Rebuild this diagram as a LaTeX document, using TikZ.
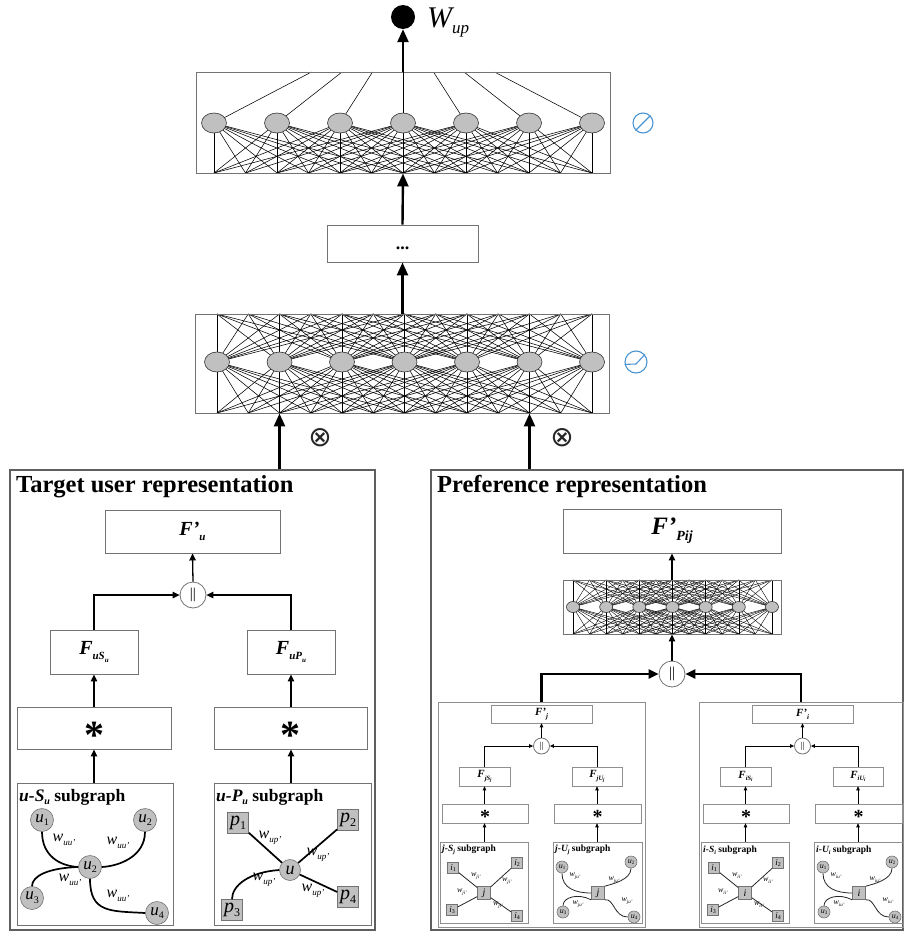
\documentclass[tikz,border=0pt]{standalone}
\usepackage{fontspec}
\setmainfont{Liberation Serif}
\newfontfamily\djv{DejaVu Sans}
\usetikzlibrary{shapes.geometric,arrows.meta}
\definecolor{boxgray}{RGB}{115,115,115}
\definecolor{panelgray}{RGB}{95,95,95}
\definecolor{nodegray}{RGB}{192,192,192}
\definecolor{iconblue}{RGB}{75,150,210}
\pgfdeclarelayer{back}
\pgfdeclarelayer{bg}
\pgfsetlayers{back,bg,main}
\newcommand\sz[1]{\fontsize{#1}{#1}\selectfont}
\newcommand\pr{\char"0027\relax}
\newcommand\wl[4]{{\sz{#1}\itshape #2\raisebox{-0.22em}{\sz{#3}#4}}}
\newcommand\netnodes[6]{%
  \foreach \i in {0,...,6}{%
    \node[neuron,minimum width=#5,minimum height=#6] (#1\i) at ({#2+2*#3*\i},#4) {};}}
\newcommand\netfan[6]{%
  \begin{pgfonlayer}{bg}
  \foreach \i in {0,...,6}{%
    \foreach \j in {0,...,12}{%
      \pgfmathtruncatemacro\dd{abs(\j-2*\i)}%
      \ifnum\dd<#5\relax\draw[netline,line width=#6] (#1\i.center) -- ({#2+#3*\j},#4);\fi}}
  \end{pgfonlayer}}
\newcommand\subpanel[3]{%
\begin{scope}[xshift=#1pt]
\node[sbox,minimum width=101,minimum height=18] (#2F) at (541.5,714) {\sz{11}\bfseries\itshape F\pr\raisebox{-0.25em}{\sz{7}#3}};
\node[cat,minimum size=16] (#2cat) at (541.5,746) {\sz{9}||};
\node[sbox,minimum width=51,minimum height=19] (#2FS) at (484.5,776.5) {\sz{11}\bfseries\itshape F\raisebox{-0.25em}{\sz{6.5}#3S\raisebox{-0.15em}{\sz{5}#3}}};
\node[sbox,minimum width=50,minimum height=19] (#2FU) at (597,776.5) {\sz{11}\bfseries\itshape F\raisebox{-0.25em}{\sz{6.5}#3U\raisebox{-0.15em}{\sz{5}#3}}};
\node[sbox,minimum width=86,minimum height=19] (#2sS) at (485,813.5) {};
\node[sbox,minimum width=87,minimum height=19] (#2sU) at (597.5,813.5) {};
\node[lbl,anchor=base] (#2aS) at (485,823.5) {\sz{20}\bfseries *};
\node[lbl,anchor=base] (#2aU) at (597.5,823.5) {\sz{20}\bfseries *};
\node[sbox,minimum width=88,minimum height=81] (#2gS) at (484,882.5) {};
\node[sbox,minimum width=89,minimum height=81] (#2gU) at (597.5,882.5) {};
\draw[sarr] (#2FS |- #2gS.north) -- (#2FS |- #2sS.south);
\draw[sarr] (#2FU |- #2gU.north) -- (#2FU |- #2sU.south);
\draw[sarr] (#2FS |- #2sS.north) -- (#2FS.south);
\draw[sarr] (#2FU |- #2sU.north) -- (#2FU.south);
\draw[sarr] (#2FS.north) |- (#2cat.west);
\draw[sarr] (#2FU.north) |- (#2cat.east);
\draw[sarr] (#2cat.north) -- (#2F.south);
% j-S graph
\node[lbl,anchor=west] (#2tS) at (442,850) {\sz{9.5}\bfseries\itshape #3-S\raisebox{-0.2em}{\sz{6}#3}\upshape\ subgraph};
\node[gsq,minimum size=11] (#2i1) at (453,868) {\sz{9}\itshape i\raisebox{-0.2em}{\sz{6}\upshape 1}};
\node[gsq,minimum size=11] (#2i2) at (517,863) {\sz{9}\itshape i\raisebox{-0.2em}{\sz{6}\upshape 2}};
\node[gsq,minimum size=13] (#2jS) at (484,893) {\sz{10}\itshape #3};
\node[gsq,minimum size=11] (#2i3) at (452,910) {\sz{9}\itshape i\raisebox{-0.2em}{\sz{6}\upshape 3}};
\node[gsq,minimum size=11] (#2i4) at (517,916) {\sz{9}\itshape i\raisebox{-0.2em}{\sz{6}\upshape 4}};
\draw[sedge] (#2i1) -- (#2jS);
\draw[sedge] (#2i2) -- (#2jS);
\draw[sedge] (#2i3) -- (#2jS);
\draw[sedge] (#2i4) -- (#2jS);
\node[lbl] (#2w1) at (476,876) {\wl{8}{w}{5}{#3i\pr}};
\node[lbl] (#2w2) at (507,881) {\wl{8}{w}{5}{#3i\pr}};
\node[lbl] (#2w3) at (462,892) {\wl{8}{w}{5}{#3i\pr}};
\node[lbl] (#2w4) at (498,905) {\wl{8}{w}{5}{#3i\pr}};
% j-U graph
\node[lbl,anchor=west] (#2tU) at (555,850) {\sz{9.5}\bfseries\itshape #3-U\raisebox{-0.2em}{\sz{6}#3}\upshape\ subgraph};
\node[gnode,minimum size=12] (#2u1) at (562,867) {\sz{8}\itshape u\raisebox{-0.2em}{\sz{5}\upshape 1}};
\node[gnode,minimum size=12] (#2u2) at (631,862) {\sz{8}\itshape u\raisebox{-0.2em}{\sz{5}\upshape 2}};
\node[gsq,minimum size=13] (#2jU) at (598,893) {\sz{10}\itshape #3};
\node[gnode,minimum size=12] (#2u3) at (563,912) {\sz{8}\itshape u\raisebox{-0.2em}{\sz{5}\upshape 3}};
\node[gnode,minimum size=12] (#2u4) at (634,917) {\sz{8}\itshape u\raisebox{-0.2em}{\sz{5}\upshape 4}};
\draw[sedge] (#2u1.south) .. controls (562,888) and (575,893) .. (#2jU.west);
\draw[sedge] (#2u2.south) .. controls (631,880) and (612,884) .. (#2jU.north east);
\draw[sedge] (#2u3.north) .. controls (563,897) and (578,893) .. (#2jU.south west);
\draw[sedge] (#2jU.south east) .. controls (614,898) and (614,917) .. (#2u4.west);
\node[lbl] (#2v1) at (575,876) {\wl{8}{w}{5}{#3u\pr}};
\node[lbl] (#2v2) at (614,880) {\wl{8}{w}{5}{#3u\pr}};
\node[lbl] (#2v3) at (578,904) {\wl{8}{w}{5}{#3u\pr}};
\node[lbl] (#2v4) at (627,901) {\wl{8}{w}{5}{#3u\pr}};
\end{scope}}

\begin{document}
\begin{tikzpicture}[x=1pt,y=-1pt,
  box/.style={draw=boxgray,line width=0.9pt,inner sep=0pt},
  panel/.style={draw=panelgray,line width=1.1pt,inner sep=0pt},
  sbox/.style={draw=boxgray!80,line width=0.6pt,inner sep=0pt},
  neuron/.style={ellipse,draw=black!80,line width=0.6pt,fill=nodegray,inner sep=0pt},
  netline/.style={black},
  thickarr/.style={line width=2.4pt,-{Triangle[length=13pt,width=11pt]}},
  midarr/.style={line width=2.2pt,-{Triangle[length=10pt,width=9pt]}},
  arr/.style={line width=1.3pt,-{Triangle[length=7pt,width=6.5pt]}},
  sarr/.style={line width=0.7pt,-{Triangle[length=4pt,width=3.5pt]}},
  cat/.style={circle,draw=boxgray,line width=0.8pt,fill=white,inner sep=0pt},
  gnode/.style={circle,draw=boxgray,line width=0.6pt,fill=nodegray,inner sep=0pt},
  gsq/.style={rectangle,draw=boxgray,line width=0.6pt,fill=nodegray,inner sep=0pt},
  gedge/.style={line width=1.7pt},
  sedge/.style={line width=0.8pt,draw=black!85},
  lbl/.style={inner sep=0pt},
  iconc/.style={circle,draw=iconblue,line width=1.1pt,minimum size=20,inner sep=0pt},
  icon/.style={draw=iconblue,line width=1.1pt},
]
\useasboundingbox (0,0) rectangle (904,934);
\begin{pgfonlayer}{back}
\fill[white] (0,0) rectangle (904,934);
\end{pgfonlayer}

% ---------- top network ----------
\node[box,minimum width=414,minimum height=101] (topbox) at (403,122.5) {};
\netnodes{top}{214}{31.5}{123}{25}{20}
\netfan{top}{214}{31.5}{173}{7}{0.55pt}
\begin{pgfonlayer}{bg}
\foreach \i in {0,1,2,4,5,6}{\draw[netline,line width=0.55pt] (top\i.center) -- ({403+30.5*(\i-3)},72);}
\end{pgfonlayer}
\draw[line width=0.8pt] (top3) -- (top3 |- topbox.north);
\node[circle,fill=black,minimum size=24,inner sep=0pt] (out) at (403,17) {};
\draw[thickarr] (top3 |- topbox.north) -- (out);
\node[lbl,anchor=base west] (wup) at (427,28) {\sz{30}\itshape W\raisebox{-0.2em}{\sz{17}up}};
\node[iconc] (icon1) at (643,123) {};
\draw[icon] (icon1.225) -- (icon1.45);

% ---------- dots box ----------
\node[box,minimum width=151,minimum height=37] (dotsbox) at (402.5,243.5) {};
\node[lbl] (dotstxt) at (402.5,248) {\sz{18}\bfseries ...};
\draw[thickarr] (dotsbox.north) -- (topbox.south);

% ---------- middle network ----------
\node[box,minimum width=414,minimum height=99] (midbox) at (402,363.5) {};
\netnodes{mid}{217}{31.25}{362}{25}{20}
\netfan{mid}{217}{31.25}{314}{7}{0.55pt}
\netfan{mid}{217}{31.25}{413}{7}{0.55pt}
\draw[thickarr] (midbox.north -| dotsbox) -- (dotsbox.south);
\node[iconc,minimum size=22] (icon2) at (636,362) {};
\draw[icon] (icon2.192) -- ([yshift=-2pt]icon2.center) -- (icon2.40);

% ---------- panels ----------
\node[panel,minimum width=365,minimum height=460] (leftpanel) at (192.5,700) {};
\node[panel,minimum width=472,minimum height=460] (rightpanel) at (667,700) {};
\draw[thickarr] (mid1 |- leftpanel.north) -- (mid1 |- midbox.south);
\draw[thickarr] (mid5 |- rightpanel.north) -- (mid5 |- midbox.south);
\node[lbl,text=black!85] (ot1) at (320,438) {\djv\sz{28}⊗};
\node[lbl,text=black!85] (ot2) at (562,438) {\djv\sz{28}⊗};
\node[lbl,anchor=base west] (tleft) at (16,492) {\sz{24.5}\bfseries Target user representation};
\node[lbl,anchor=base west] (tright) at (437,492) {\sz{24.5}\bfseries Preference representation};

% ---------- left panel ----------
\node[box,minimum width=175,minimum height=43] (Fu) at (192.5,531.5) {\sz{20}\bfseries\itshape F\pr\raisebox{-0.25em}{\sz{11}u}};
\node[cat,minimum size=26] (catL) at (193,595) {\sz{15}||};
\node[box,minimum width=88,minimum height=44] (FuS) at (94,652) {\sz{20}\bfseries\itshape F\raisebox{-0.25em}{\sz{11}uS\raisebox{-0.2em}{\sz{7}u}}};
\node[box,minimum width=88,minimum height=44] (FuP) at (291,652) {\sz{20}\bfseries\itshape F\raisebox{-0.25em}{\sz{11}uP\raisebox{-0.2em}{\sz{7}u}}};
\node[box,minimum width=154,minimum height=42] (starL) at (94,728) {};
\node[box,minimum width=153,minimum height=42] (starR) at (290.5,728) {};
\node[lbl,anchor=base] (astL) at (94,748) {\sz{40}\bfseries *};
\node[lbl,anchor=base] (astR) at (290.5,748) {\sz{40}\bfseries *};
\node[box,minimum width=156,minimum height=142] (gL) at (95,854) {};
\node[box,minimum width=157,minimum height=142] (gR) at (292.5,854) {};
\draw[arr] (FuS |- gL.north) -- (FuS |- starL.south);
\draw[arr] (FuP |- gR.north) -- (FuP |- starR.south);
\draw[arr] (FuS |- starL.north) -- (FuS.south);
\draw[arr] (FuP |- starR.north) -- (FuP.south);
\draw[arr] (FuS.north) |- (catL.west);
\draw[arr] (FuP.north) |- (catL.east);
\draw[arr] (catL.north) -- (Fu.south);

% u-S_u subgraph
\node[lbl,anchor=west] (tgL) at (19,797) {\sz{17.5}\bfseries\itshape u-S\raisebox{-0.2em}{\sz{10}u}\upshape\ subgraph};
\node[gnode,minimum size=23] (lu1) at (42,820) {\sz{17}\itshape u\raisebox{-0.22em}{\sz{10}\upshape 1}};
\node[gnode,minimum size=23] (lu2) at (145,820) {\sz{17}\itshape u\raisebox{-0.22em}{\sz{10}\upshape 2}};
\node[gnode,minimum size=23] (luc) at (90,867) {\sz{17}\itshape u\raisebox{-0.22em}{\sz{10}\upshape 2}};
\node[gnode,minimum size=23] (lu3) at (32,898) {\sz{17}\itshape u\raisebox{-0.22em}{\sz{10}\upshape 3}};
\node[gnode,minimum size=23] (lu4) at (157,913) {\sz{17}\itshape u\raisebox{-0.22em}{\sz{10}\upshape 4}};
\draw[gedge] (lu1.south) .. controls (42,856) and (60,866) .. (luc.west);
\draw[gedge] (lu2.south) .. controls (145,856) and (120,866) .. (luc.east);
\draw[gedge] (lu3.north) .. controls (32,876) and (48,868) .. (luc.west);
\draw[gedge] (luc.south) .. controls (90,913) and (110,911) .. (lu4.west);
\node[lbl] (lw1) at (64,840) {\wl{16}{w}{9}{uu\pr}};
\node[lbl] (lw2) at (118,843) {\wl{16}{w}{9}{uu\pr}};
\node[lbl] (lw3) at (70,880) {\wl{16}{w}{9}{uu\pr}};
\node[lbl] (lw4) at (118,896) {\wl{16}{w}{9}{uu\pr}};

% u-P_u subgraph
\node[lbl,anchor=west] (tgR) at (216,797) {\sz{17.5}\bfseries\itshape u-P\raisebox{-0.2em}{\sz{10}u}\upshape\ subgraph};
\node[gsq,minimum size=21] (p1) at (238,823) {\sz{20}\itshape p\raisebox{-0.2em}{\sz{12}\upshape 1}};
\node[gsq,minimum size=21] (p2) at (348,820) {\sz{20}\itshape p\raisebox{-0.2em}{\sz{12}\upshape 2}};
\node[gnode,minimum size=21] (pu) at (290,870) {\sz{18}\itshape u};
\node[gsq,minimum size=21] (p3) at (232,910) {\sz{20}\itshape p\raisebox{-0.2em}{\sz{12}\upshape 3}};
\node[gsq,minimum size=21] (p4) at (348,897) {\sz{20}\itshape p\raisebox{-0.2em}{\sz{12}\upshape 4}};
\draw[gedge] (p1) -- (pu);
\draw[gedge] (p2) -- (pu);
\draw[gedge] (p4) -- (pu);
\draw[gedge] (p3.north) .. controls (232,885) and (250,872) .. (pu.west);
\node[lbl] (rw1) at (270,838) {\wl{16}{w}{9}{up\pr}};
\node[lbl] (rw2) at (318,855) {\wl{16}{w}{9}{up\pr}};
\node[lbl] (rw3) at (264,880) {\wl{16}{w}{9}{up\pr}};
\node[lbl] (rw4) at (313,891) {\wl{16}{w}{9}{up\pr}};

% ---------- right panel ----------
\node[box,minimum width=218,minimum height=44] (Fp) at (672,531) {\sz{25}\bfseries\itshape F\pr\raisebox{-0.25em}{\sz{14}Pij}};
\node[box,minimum width=218,minimum height=54] (smallbox) at (672,607) {};
\netnodes{sm}{573}{16.58}{607}{13}{11}
\netfan{sm}{573}{16.58}{580}{7}{0.4pt}
\netfan{sm}{573}{16.58}{634}{7}{0.4pt}
\node[cat,minimum size=26] (catP) at (672,674) {\sz{15}||};
\draw[arr] (catP.north) -- (smallbox.south);
\draw[arr] (smallbox.north) -- (Fp.south);
\node[sbox,minimum width=207,minimum height=225] (spL) at (541.5,814.5) {};
\node[sbox,minimum width=204,minimum height=225] (spR) at (801,814.5) {};
\draw[midarr] (spL.north) |- (catP.west);
\draw[midarr] (spR.north) |- (catP.east);
\subpanel{0}{L}{j}
\subpanel{261}{R}{i}
\end{tikzpicture}
\end{document}
